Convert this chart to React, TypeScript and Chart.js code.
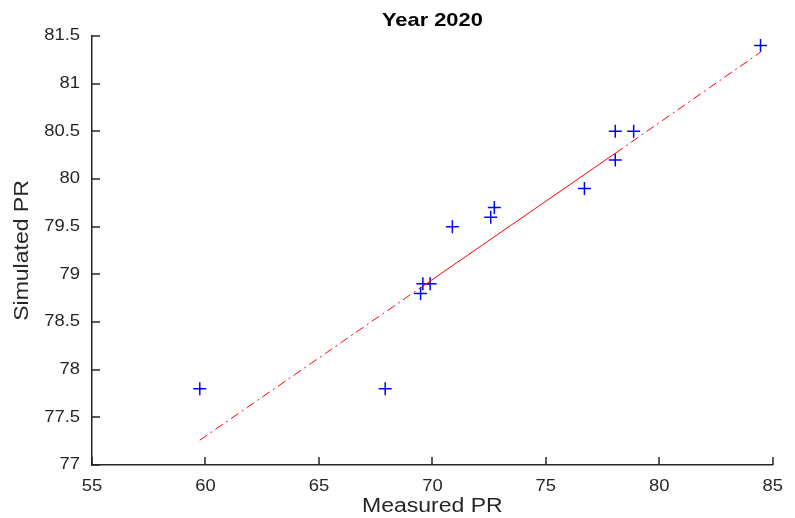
import { useEffect, useRef } from 'react';
import { Chart, registerables } from 'chart.js';

Chart.register(...registerables);

// ---- data ----
const measuredPR = [59.75, 67.92, 69.48, 69.58, 69.9, 70.88, 72.57, 72.73, 76.7, 78.06, 78.06, 78.87, 84.46];
const simulatedPR = [77.8, 77.8, 78.8, 78.9, 78.9, 79.5, 79.6, 79.7, 79.9, 80.2, 80.5, 80.5, 81.4];
// fitted line: dash-dot outside, solid between the 2nd and 3rd point
const fitX = [59.75, 69.48, 78.06, 84.46];
const fitY = [77.26, 78.86, 80.27, 81.33];
const xTickValues = [55, 60, 65, 70, 75, 80, 85];
const yTickValues = [77, 77.5, 78, 78.5, 79, 79.5, 80, 80.5, 81, 81.5];
const chartTitle = 'Year 2020';
const xAxisTitle = 'Measured PR';
const yAxisTitle = 'Simulated PR';

// ---- styles ----
const FONT = '"Liberation Sans", Arial, Helvetica, sans-serif';
const AXIS_COLOR = '#262626';
const TEXT_STRETCH = 1.15;
const TICK_LEN = 8;

const inwardTicks = {
  id: 'inwardTicks',
  afterDraw(chart: any) {
    const { ctx, chartArea, scales } = chart;
    ctx.save();
    ctx.strokeStyle = AXIS_COLOR;
    ctx.lineWidth = 1.5;
    ctx.beginPath();
    for (const v of xTickValues) {
      const px = Math.round(scales.x.getPixelForValue(v));
      ctx.moveTo(px, chartArea.bottom);
      ctx.lineTo(px, chartArea.bottom - TICK_LEN);
    }
    for (const v of yTickValues) {
      const py = Math.round(scales.y.getPixelForValue(v));
      ctx.moveTo(chartArea.left, py);
      ctx.lineTo(chartArea.left + TICK_LEN, py);
    }
    ctx.stroke();
    ctx.restore();
  },
};

function stretchText(ctx: any, sx: number) {
  if (ctx.__stretched) return;
  ctx.__stretched = true;
  const origFill = ctx.fillText.bind(ctx);
  const origMeasure = ctx.measureText.bind(ctx);
  ctx.fillText = (t: string, x: number, y: number, mw?: number) => {
    ctx.save();
    ctx.translate(x, y);
    ctx.scale(sx, 1);
    if (mw !== undefined && mw !== null) origFill(t, 0, 0, mw / sx);
    else origFill(t, 0, 0);
    ctx.restore();
  };
  ctx.measureText = (t: string) => {
    const m = origMeasure(t);
    return {
      width: m.width * sx,
      actualBoundingBoxAscent: m.actualBoundingBoxAscent,
      actualBoundingBoxDescent: m.actualBoundingBoxDescent,
      actualBoundingBoxLeft: m.actualBoundingBoxLeft * sx,
      actualBoundingBoxRight: m.actualBoundingBoxRight * sx,
      fontBoundingBoxAscent: m.fontBoundingBoxAscent,
      fontBoundingBoxDescent: m.fontBoundingBoxDescent,
    };
  };
}

export default function App() {
  const ref = useRef<HTMLCanvasElement | null>(null);

  useEffect(() => {
    const canvas = ref.current;
    if (!canvas) return;
    const ctx = canvas.getContext('2d');
    stretchText(ctx, TEXT_STRETCH);

    const points = measuredPR.map((x, i) => ({ x, y: simulatedPR[i] }));
    const fit = fitX.map((x, i) => ({ x, y: fitY[i] }));

    const chart = new Chart(canvas, {
      type: 'scatter',
      data: {
        datasets: [
          {
            type: 'line',
            data: fit,
            borderColor: '#ff0000',
            borderWidth: 1,
            pointRadius: 0,
            fill: false,
            tension: 0,
            segment: {
              borderDash: (c: any) => (c.p0DataIndex === 1 ? [] : [9, 4, 2, 4]),
            },
          } as any,
          {
            data: points,
            pointStyle: 'cross',
            pointRadius: 6.5,
            pointBorderWidth: 1.5,
            borderColor: '#0000ff',
            backgroundColor: '#0000ff',
            showLine: false,
          },
        ],
      },
      options: {
        responsive: false,
        animation: false,
        devicePixelRatio: 1,
        layout: { padding: { left: 0, right: 11, top: 0, bottom: 0 } },
        plugins: {
          legend: { display: false },
          tooltip: { enabled: false },
          title: {
            display: true,
            text: chartTitle,
            fullSize: false,
            color: '#000000',
            font: { family: FONT, size: 19, weight: 'bold' },
            padding: { top: 9, bottom: 4.2 },
          },
        },
        scales: {
          x: {
            type: 'linear',
            min: 55,
            max: 85,
            afterBuildTicks: (s: any) => {
              s.ticks = xTickValues.map((value) => ({ value }));
            },
            afterFit: (s: any) => {
              s.height = 53;
            },
            ticks: {
              color: AXIS_COLOR,
              font: { family: FONT, size: 16 },
              padding: 12,
              maxRotation: 0,
              autoSkip: false,
              callback: (v: any) => String(v),
            },
            grid: { display: false, drawTicks: false },
            border: { display: true, color: AXIS_COLOR, width: 1.5 },
            title: {
              display: true,
              text: xAxisTitle,
              color: AXIS_COLOR,
              font: { family: FONT, size: 20 },
              padding: { top: 0, bottom: 0 },
            },
          },
          y: {
            type: 'linear',
            min: 77,
            max: 81.5,
            afterBuildTicks: (s: any) => {
              s.ticks = yTickValues.map((value) => ({ value }));
            },
            afterFit: (s: any) => {
              s.width = 92;
            },
            ticks: {
              color: AXIS_COLOR,
              font: { family: FONT, size: 16 },
              padding: 12,
              autoSkip: false,
              callback: (v: any) => String(v),
            },
            grid: { display: false, drawTicks: false },
            border: { display: true, color: AXIS_COLOR, width: 1.5 },
            title: {
              display: true,
              text: yAxisTitle,
              color: AXIS_COLOR,
              font: { family: FONT, size: 20 },
              padding: { top: 10, bottom: 0 },
            },
          },
        },
      } as any,
      plugins: [inwardTicks],
    });

    return () => chart.destroy();
  }, []);

  return (
    <div style={{ position: 'fixed', left: 0, top: 0, width: 795, height: 518, background: '#ffffff' }}>
      <canvas ref={ref} width={795} height={518} style={{ display: 'block', width: 795, height: 518 }} />
    </div>
  );
}
